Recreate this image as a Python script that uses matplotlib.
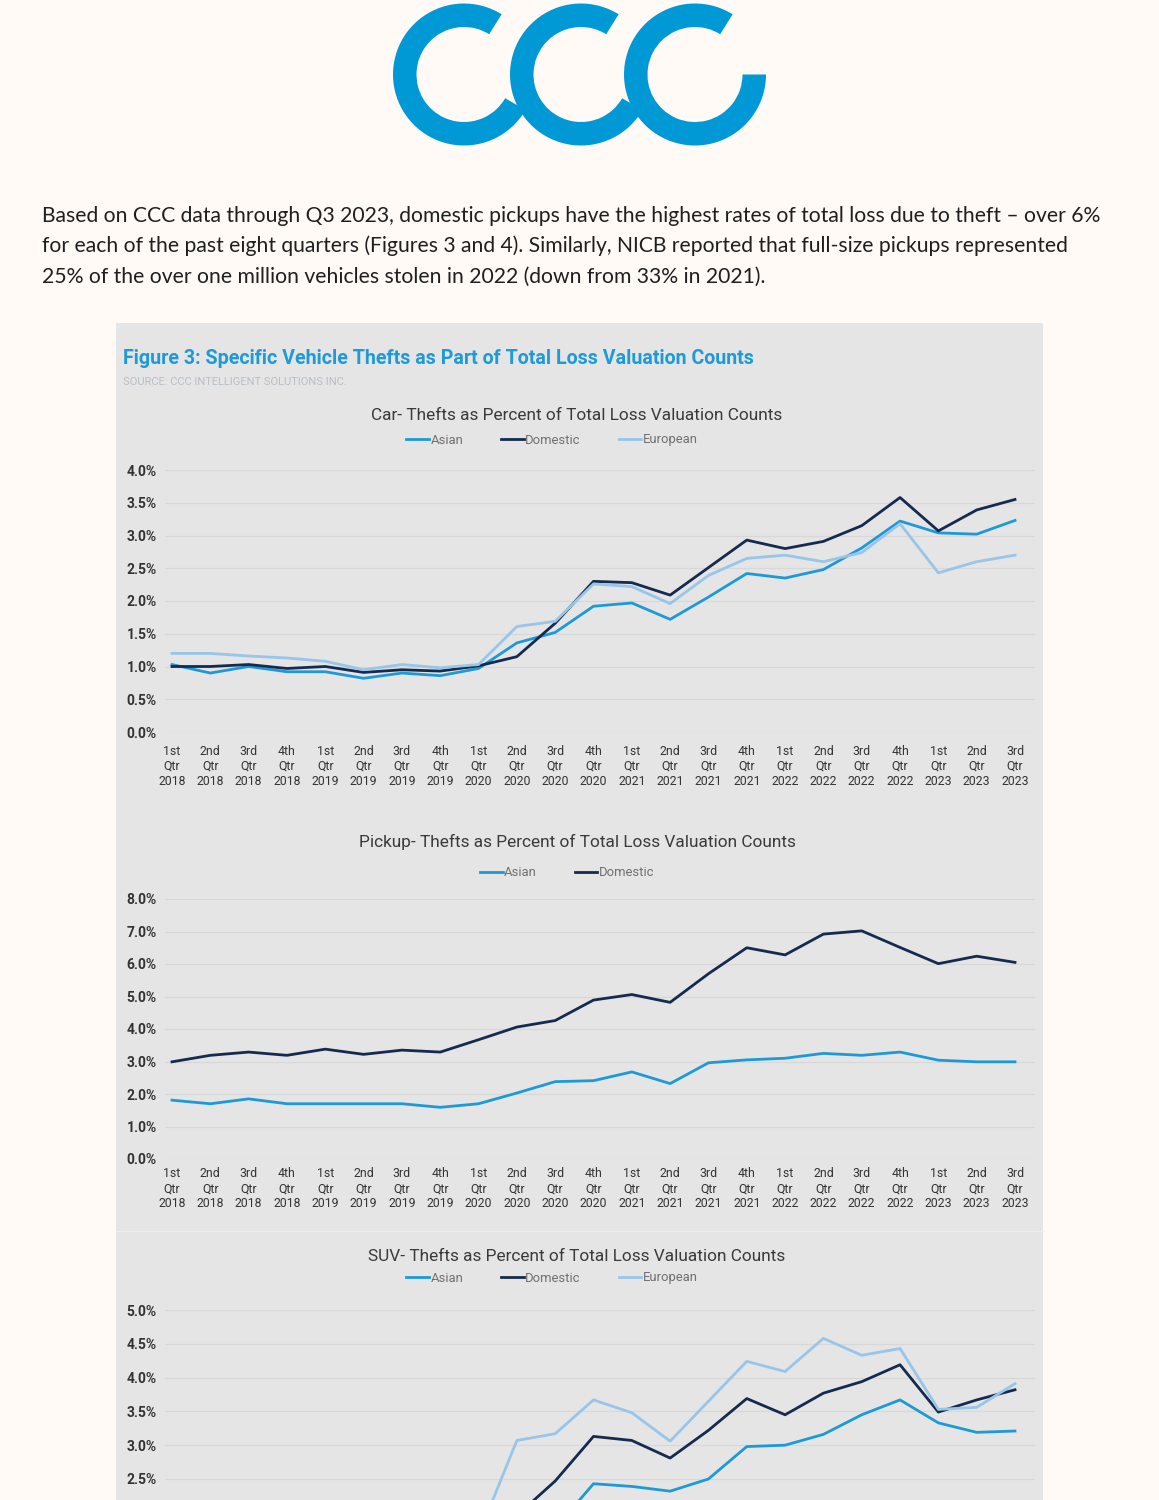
import matplotlib
matplotlib.use('Agg')
import matplotlib.pyplot as plt
from matplotlib.patches import Wedge, Rectangle

# quarters 1st Qtr 2018 .. 3rd Qtr 2023
qtr_names = ['1st', '2nd', '3rd', '4th']
years = ['2018', '2019', '2020', '2021', '2022', '2023']
quarters = [q + '\nQtr\n' + y for y in years for q in qtr_names][:23]

# Car thefts, % of total loss valuation counts
car_asian = [1.03, 0.90, 1.00, 0.92, 0.92, 0.82, 0.90, 0.86, 0.97, 1.36, 1.52, 1.92,
             1.97, 1.72, 2.06, 2.42, 2.35, 2.48, 2.81, 3.22, 3.04, 3.02, 3.23]
car_domestic = [1.00, 1.00, 1.03, 0.97, 1.00, 0.91, 0.95, 0.93, 1.01, 1.15, 1.66, 2.30,
                2.28, 2.09, 2.51, 2.93, 2.80, 2.91, 3.15, 3.58, 3.07, 3.39, 3.55]
car_european = [1.20, 1.20, 1.16, 1.13, 1.08, 0.95, 1.03, 0.98, 1.03, 1.61, 1.69, 2.26,
                2.22, 1.96, 2.39, 2.65, 2.70, 2.60, 2.74, 3.18, 2.43, 2.60, 2.70]

# Pickup thefts
pickup_asian = [1.81, 1.70, 1.85, 1.70, 1.70, 1.70, 1.70, 1.59, 1.70, 2.03, 2.38, 2.41,
                2.68, 2.32, 2.96, 3.05, 3.10, 3.25, 3.19, 3.29, 3.04, 2.99, 2.99]
pickup_domestic = [2.99, 3.19, 3.29, 3.19, 3.38, 3.22, 3.35, 3.29, 3.67, 4.06, 4.26, 4.89,
                   5.06, 4.82, 5.70, 6.50, 6.28, 6.92, 7.02, 6.51, 6.01, 6.24, 6.05]

# SUV thefts (early quarters fall below the visible crop, estimated)
suv_asian = [1.30, 1.20, 1.25, 1.20, 1.20, 1.15, 1.20, 1.15, 1.30, 1.60, 1.77, 2.43,
             2.39, 2.32, 2.50, 2.98, 3.00, 3.16, 3.45, 3.67, 3.33, 3.19, 3.21]
suv_domestic = [1.50, 1.45, 1.50, 1.45, 1.50, 1.40, 1.45, 1.40, 1.60, 1.96, 2.47, 3.13,
                3.07, 2.81, 3.22, 3.69, 3.45, 3.77, 3.94, 4.19, 3.49, 3.67, 3.82]
suv_european = [1.60, 1.55, 1.60, 1.55, 1.60, 1.50, 1.55, 1.50, 1.67, 3.07, 3.17, 3.67,
                3.48, 3.06, 3.65, 4.24, 4.09, 4.58, 4.33, 4.43, 3.53, 3.56, 3.91]

paragraph = [
    'Based on CCC data through Q3 2023, domestic pickups have the highest rates of total loss due to theft \u2013 over 6%',
    'for each of the past eight quarters (Figures 3 and 4). Similarly, NICB reported that full-size pickups represented',
    '25% of the over one million vehicles stolen in 2022 (down from 33% in 2021).',
]

c_asian = '#1C9AD8'
c_domestic = '#142A4E'
c_european = '#98C5EA'
page_bg = '#FFFAF6'
panel_bg = '#E5E5E5'
logo_blue = '#0099D6'
chart_font = 'Roboto'

W, H = 1159, 1500
fig = plt.figure(figsize=(W / 100, H / 100), dpi=100)
fig.patch.set_facecolor(page_bg)

# background axes in pixel coordinates
bg = fig.add_axes([0, 0, 1, 1])
bg.set_xlim(0, W)
bg.set_ylim(H, 0)
bg.axis('off')

# logo: three linked C's (angles are flipped because y runs downward)
for cx, t1, t2 in [(464, 30, 302), (581, 30, 302), (695, 0, 302)]:
    bg.add_patch(Wedge((cx, 74.5), 71, t1, t2, width=23.5, color=logo_blue, lw=0))

for k, line in enumerate(paragraph):
    bg.text(42, 222 + k * 30.5, line, fontsize=15.2, family='Lato', color='#1F1F1F',
            va='baseline', ha='left')

# grey figure panel
bg.add_patch(Rectangle((116, 323), 927, 1250, color=panel_bg, lw=0))
bg.plot([116, 1043], [1231, 1231], color='#EEEEEE', lw=1)

bg.text(123, 364, 'Figure 3: Specific Vehicle Thefts as Part of Total Loss Valuation Counts',
        fontsize=14.1, fontweight='bold', family=chart_font, color='#1E9AD6', va='baseline')
bg.text(123, 385, 'SOURCE: CCC INTELLIGENT SOLUTIONS INC.', fontsize=8, family=chart_font,
        color='#B9BEC6', va='baseline')


def px_axes(left, top, right, bottom):
    return fig.add_axes([left / W, 1 - bottom / H, (right - left) / W, (bottom - top) / H])


def draw_chart(ax, series, ymax, ystep, title, title_y, legend_y, legend_x,
               xpad=9.5, ymin_label=0.0, show_x=True):
    ax.set_facecolor('none')
    for s in ax.spines.values():
        s.set_visible(False)
    x = list(range(len(quarters)))
    handles = []
    for name, vals, col in series:
        ln, = ax.plot(x, vals, color=col, lw=2.0, label=name)
        handles.append(ln)
    ax.set_xlim(-7 / 38.32, 22 + 20 / 38.32)
    ax.set_ylim(0, ymax)
    yt = [i * ystep for i in range(int(round(ymax / ystep)) + 1) if i * ystep >= ymin_label - 1e-9]
    ax.set_yticks(yt)
    ax.set_yticklabels(['%.1f%%' % v for v in yt], fontweight='bold', family=chart_font)
    ax.set_xticks(x)
    ax.set_xticklabels(quarters, family=chart_font, linespacing=1.18)
    ax.tick_params(axis='y', length=0, pad=6, labelsize=10, labelcolor='#333333')
    ax.tick_params(axis='x', length=0, pad=xpad, labelsize=8.8, labelcolor='#333333',
                   labelbottom=show_x)
    ax.set_axisbelow(True)
    ax.yaxis.grid(True, color='#D8D8D8', lw=0.9)
    bg.text(577, title_y, title, fontsize=12.4, family=chart_font, color='#3A3A3A',
            ha='center', va='baseline')
    fig.legend(handles, [h.get_label() for h in handles], loc='center',
               bbox_to_anchor=(legend_x / W, 1 - legend_y / H), ncol=len(handles),
               frameon=False, handlelength=1.75, handletextpad=0.1, columnspacing=2.9,
               prop={'family': chart_font, 'size': 9.4}, labelcolor='#707070')


ax_car = px_axes(165, 470, 1035, 732)
draw_chart(ax_car, [('Asian', car_asian, c_asian), ('Domestic', car_domestic, c_domestic),
                    ('European', car_european, c_european)],
           4.0, 0.5, 'Car- Thefts as Percent of Total Loss Valuation Counts', 420, 440, 552)

ax_pickup = px_axes(165, 899, 1035, 1159)
draw_chart(ax_pickup, [('Asian', pickup_asian, c_asian), ('Domestic', pickup_domestic, c_domestic)],
           8.0, 1.0, 'Pickup- Thefts as Percent of Total Loss Valuation Counts', 847, 873, 567,
           xpad=6.0)

# SUV chart runs past the bottom of the page; only the upper part is visible
ax_suv = px_axes(165, 1310, 1035, 1648)
draw_chart(ax_suv, [('Asian', suv_asian, c_asian), ('Domestic', suv_domestic, c_domestic),
                    ('European', suv_european, c_european)],
           5.0, 0.5, 'SUV- Thefts as Percent of Total Loss Valuation Counts', 1261, 1278, 552,
           ymin_label=2.5, show_x=False)

fig.savefig('out.png', dpi=100, facecolor=page_bg)
